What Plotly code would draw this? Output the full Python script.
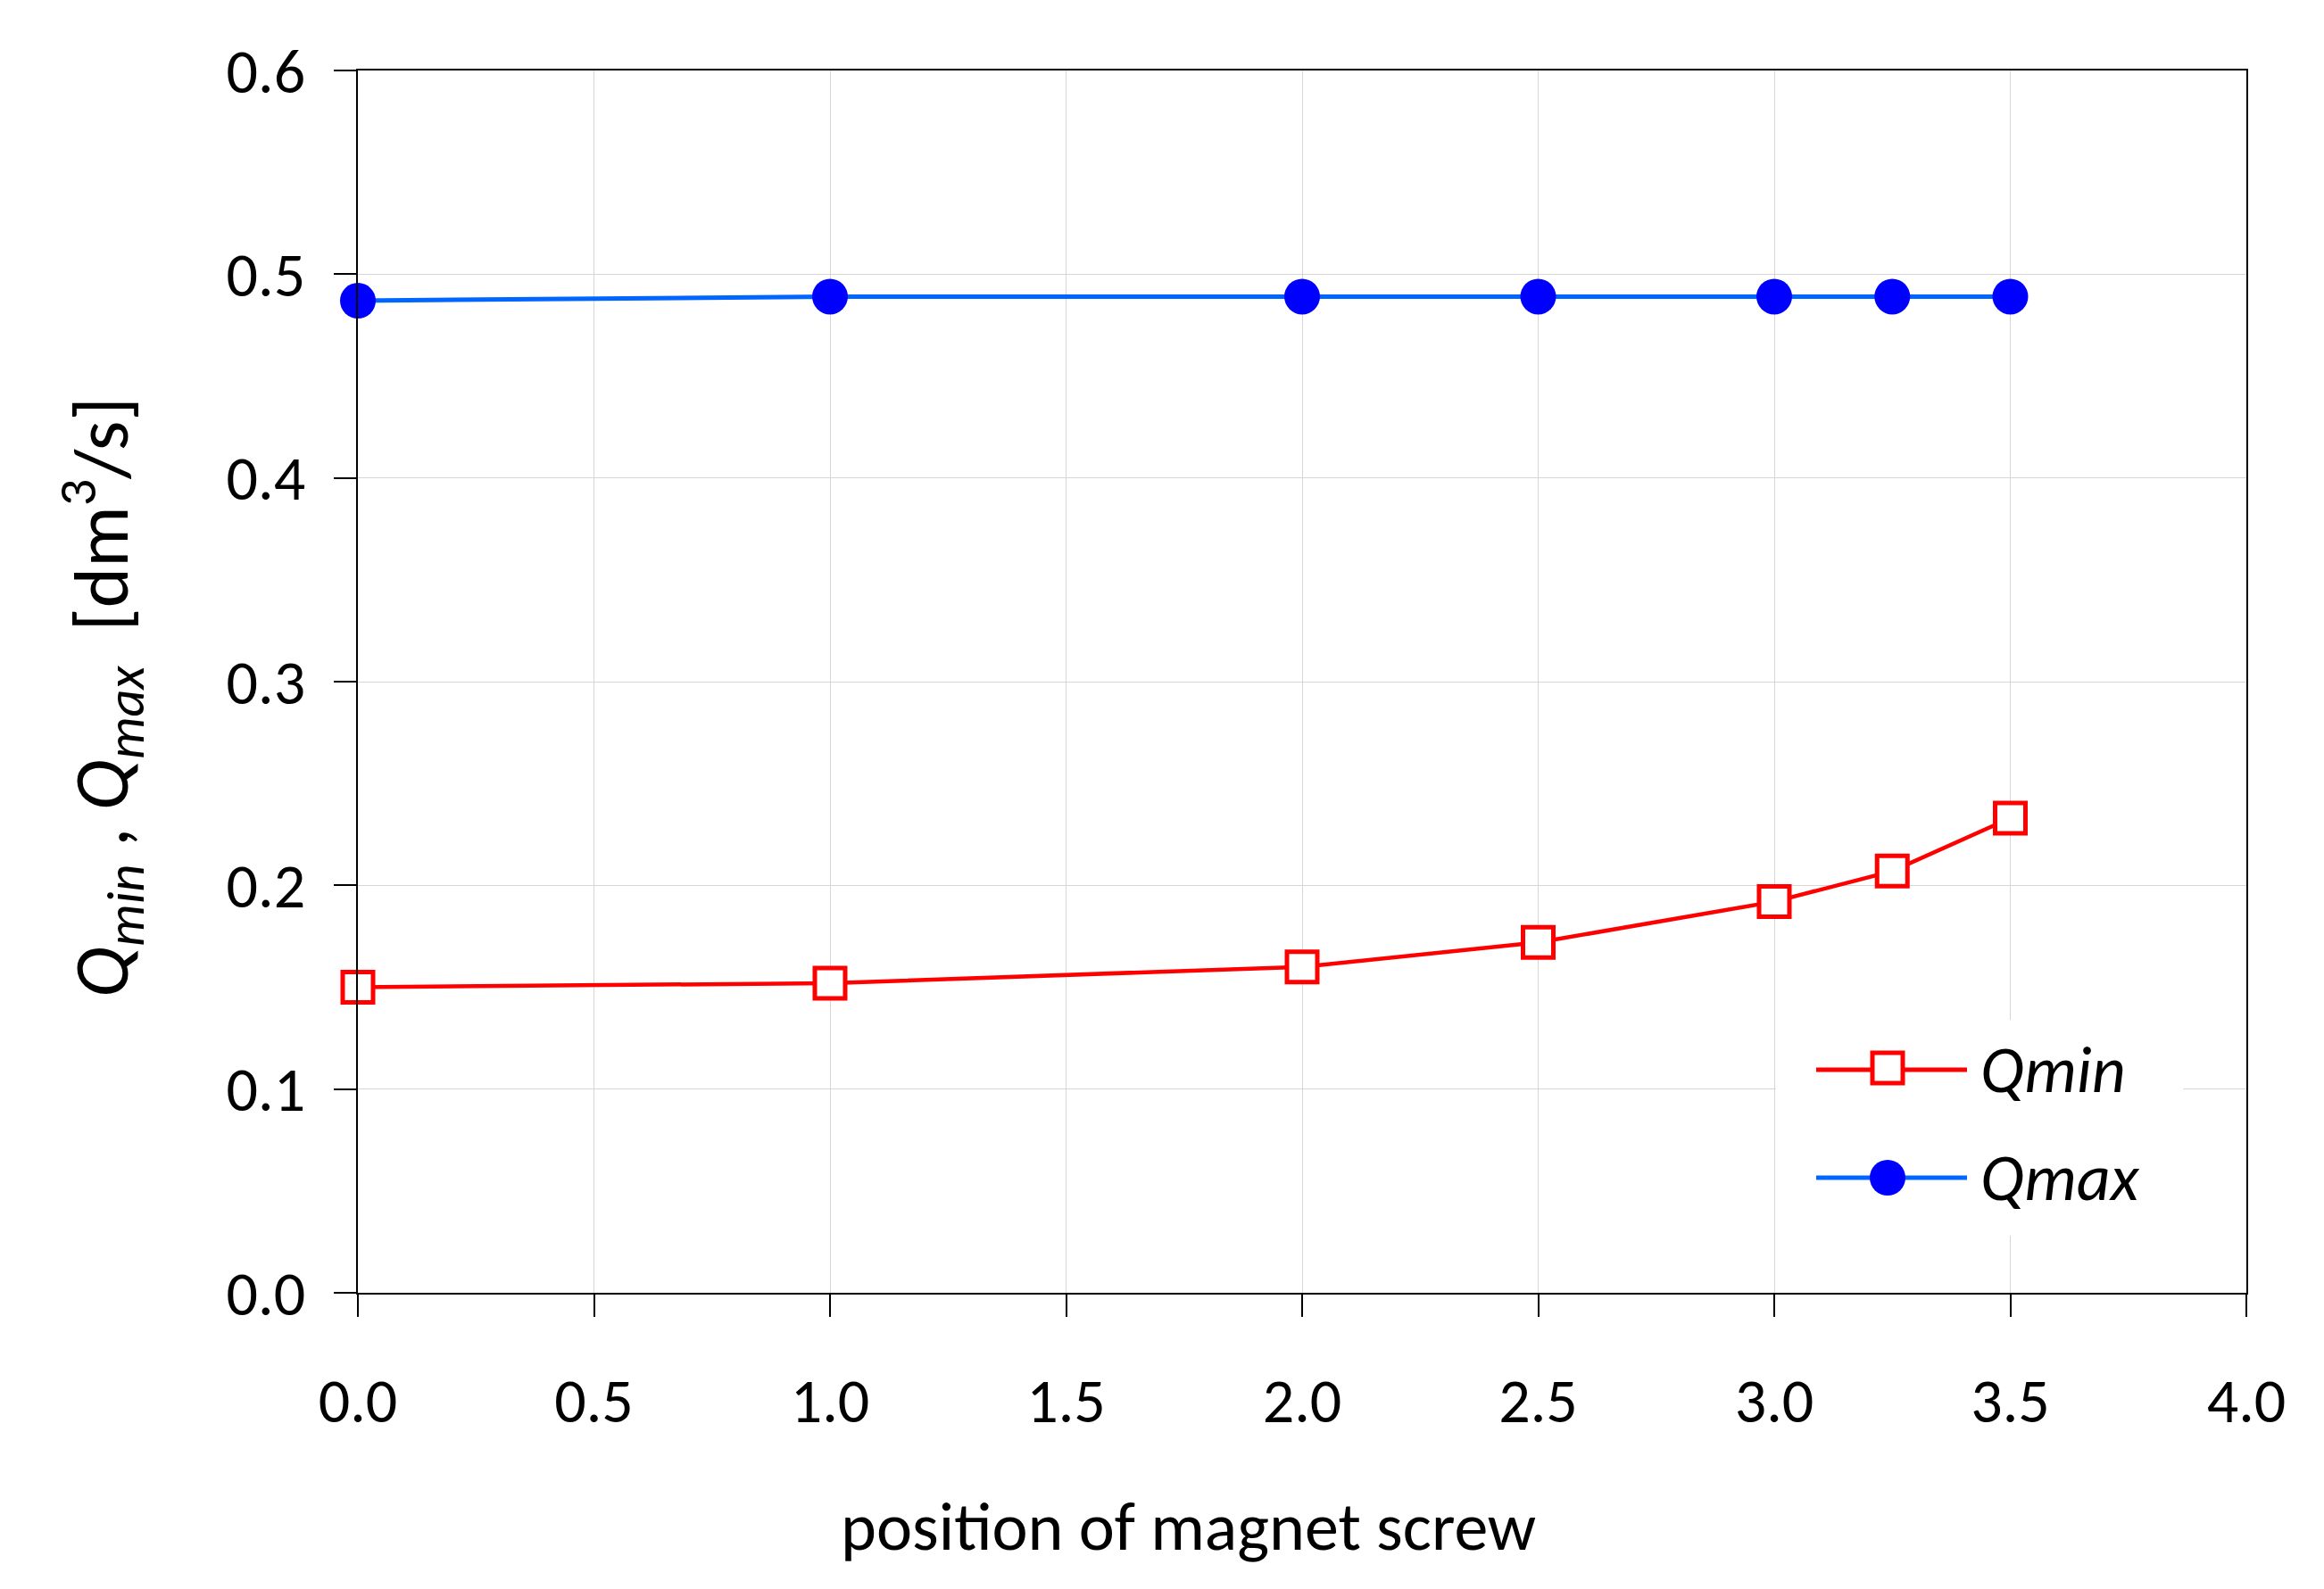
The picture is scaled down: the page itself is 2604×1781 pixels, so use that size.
import plotly.graph_objects as go

positions = [0.0, 1.0, 2.0, 2.5, 3.0, 3.25, 3.5]
q_min = [0.150, 0.152, 0.160, 0.172, 0.192, 0.207, 0.233]
q_max = [0.487, 0.489, 0.489, 0.489, 0.489, 0.489, 0.489]
x_ticks = [0.0, 0.5, 1.0, 1.5, 2.0, 2.5, 3.0, 3.5, 4.0]
y_ticks = [0.0, 0.1, 0.2, 0.3, 0.4, 0.5, 0.6]
series_names = ["Qmin", "Qmax"]

FONT = "Carlito, Calibri, Lato, sans-serif"
FS_TICK = 70
FS_TITLE = 76
FS_YTITLE = 86
FS_LEG = 74

W, H = 2604, 1781
OFF = 8                              # page body margin
L, R, T, B = 401, 2517, 79, 1449     # plot area in screenshot pixels
PW, PH = R - L, B - T

def px(xp):
    return (xp - L) / PW

def py(yp):
    return (B - yp) / PH

RED = "#FF0000"
BLUE_LINE = "#0066FF"
BLUE_MARK = "#0000FF"

fig = go.Figure()
fig.add_trace(go.Scatter(
    x=positions, y=q_min, name=series_names[0], mode="lines+markers",
    line=dict(color=RED, width=4.5),
    marker=dict(symbol="square", size=34, color="white",
                line=dict(color=RED, width=5)),
    cliponaxis=False, showlegend=False,
))
fig.add_trace(go.Scatter(
    x=positions, y=q_max, name=series_names[1], mode="lines+markers",
    line=dict(color=BLUE_LINE, width=5),
    marker=dict(symbol="circle", size=40, color=BLUE_MARK,
                line=dict(width=0)),
    cliponaxis=False, showlegend=False,
))

axis_common = dict(
    showline=True, linecolor="black", linewidth=1.6, mirror=True,
    ticks="outside", ticklen=25, tickwidth=1.6, tickcolor="black",
    showgrid=True, gridcolor="#D6D6D6", gridwidth=1.3,
    zeroline=False,
    tickfont=dict(family=FONT, size=FS_TICK, color="black"),
)

fig.update_xaxes(range=[0, 4], tickvals=x_ticks,
                 ticktext=[f"{v:.1f}" for v in x_ticks],
                 ticklabelstandoff=34, **axis_common)
fig.update_yaxes(range=[0, 0.6], tickvals=y_ticks,
                 ticktext=[f"{v:.1f}" for v in y_ticks],
                 ticklabelstandoff=18, **axis_common)

# axis titles
fig.add_annotation(
    text="position of magnet screw", xref="paper", yref="paper",
    x=px(1331), y=py(1711),
    xanchor="center", yanchor="middle", showarrow=False,
    font=dict(family=FONT, size=FS_TITLE, color="black"),
)
fig.add_annotation(
    text="<i>Q<sub>min</sub></i> , <i>Q<sub>max</sub></i>  [dm<sup>3</sup>/s]",
    xref="paper", yref="paper",
    x=px(113), y=py(782),
    xanchor="center", yanchor="middle", textangle=-90, showarrow=False,
    font=dict(family=FONT, size=FS_YTITLE, color="black"),
)

# legend (drawn manually to keep full-size sample markers and long lines)
shapes = [
    dict(type="rect", xref="paper", yref="paper", layer="above",
         x0=px(1990), x1=px(2446), y0=py(1385), y1=py(1143),
         fillcolor="white", line=dict(width=0)),
    dict(type="line", xref="paper", yref="paper", layer="above",
         x0=px(2035), x1=px(2204), y0=py(1199), y1=py(1199),
         line=dict(color=RED, width=5)),
    dict(type="rect", xref="paper", yref="paper", layer="above",
         x0=px(2115 - 17), x1=px(2115 + 17), y0=py(1197 + 17), y1=py(1197 - 17),
         fillcolor="white", line=dict(color=RED, width=5)),
    dict(type="line", xref="paper", yref="paper", layer="above",
         x0=px(2035), x1=px(2204), y0=py(1320), y1=py(1320),
         line=dict(color=BLUE_LINE, width=5)),
    dict(type="circle", xref="paper", yref="paper", layer="above",
         x0=px(2115 - 20), x1=px(2115 + 20), y0=py(1320 + 20), y1=py(1320 - 20),
         fillcolor=BLUE_MARK, line=dict(width=0)),
]
for name, yc in zip(series_names, [1199, 1320]):
    fig.add_annotation(
        text=f"<i>{name}</i>", xref="paper", yref="paper",
        x=px(2217), y=py(yc), xanchor="left", yanchor="middle",
        showarrow=False,
        font=dict(family=FONT, size=FS_LEG, color="black"),
    )

fig.update_layout(
    width=W, height=H,
    margin=dict(l=L - OFF, r=W - (R - OFF), t=T - OFF, b=H - (B - OFF)),
    paper_bgcolor="white", plot_bgcolor="white",
    showlegend=False,
    shapes=shapes,
)

fig.write_html("out.html")
